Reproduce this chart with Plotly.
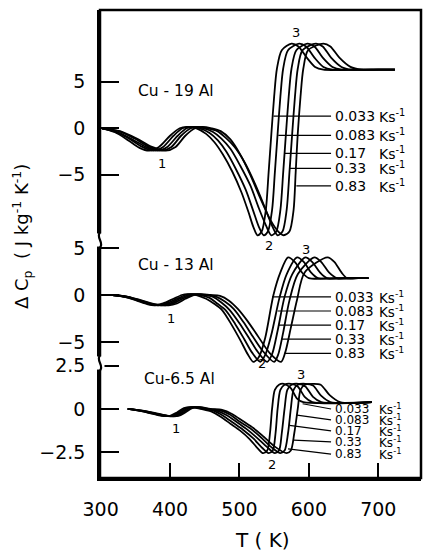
import plotly.graph_objects as go

RATES = ["0.033", "0.083", "0.17", "0.33", "0.83"]
ALLOYS = ["Cu - 19 Al", "Cu - 13 Al", "Cu-6.5 Al"]
X_TICKS = [300, 400, 500, 600, 700]

# ---------------- Cu-19 Al (top panel) ----------------
P1_T = [
    [302, 320, 340, 356, 370, 384, 400, 414, 424, 438, 452, 464, 476, 490, 503, 513, 520, 526, 532, 538, 542, 546, 550, 554, 561, 575, 585, 597, 609, 621, 660, 724],
    [302, 322, 343, 360, 376, 390, 405, 418, 429, 443, 457, 469, 481, 495, 509, 520, 528, 535, 541, 547, 551, 555, 559, 563, 570, 586, 596, 608, 621, 634, 670, 724],
    [302, 324, 346, 365, 382, 396, 411, 424, 435, 449, 462, 474, 487, 501, 516, 528, 538, 546, 553, 559, 563, 567, 571, 575, 582, 598, 608, 620, 634, 648, 680, 724],
    [302, 326, 349, 370, 388, 402, 416, 430, 440, 454, 468, 480, 493, 507, 522, 536, 546, 555, 562, 568, 572, 576, 580, 584, 591, 610, 620, 632, 647, 662, 690, 724],
    [302, 328, 352, 374, 394, 408, 422, 436, 446, 460, 473, 487, 501, 515, 530, 545, 556, 564, 572, 578, 581, 584, 588, 592, 599, 621, 631, 644, 660, 676, 700, 724],
]
P1_C = [
    [0, -0.4, -1.3, -2.1, -2.4, -2.0, -0.8, 0, 0.15, 0.0, -0.6, -1.5, -2.8, -4.7, -6.9, -9.0, -10.6, -11.5, -11.1, -8.8, -4.8, -0.6, 3.4, 6.4, 8.4, 9.1, 8.8, 7.6, 6.6, 6.3, 6.3, 6.3],
    [0, -0.4, -1.2, -2.0, -2.4, -2.0, -0.8, 0, 0.15, 0.0, -0.5, -1.3, -2.5, -4.4, -6.6, -8.9, -10.6, -11.5, -11.1, -8.8, -4.8, -0.6, 3.4, 6.4, 8.4, 9.1, 8.8, 7.6, 6.6, 6.3, 6.3, 6.3],
    [0, -0.4, -1.2, -2.0, -2.4, -2.0, -0.8, 0, 0.15, 0.0, -0.4, -1.1, -2.2, -4.0, -6.2, -8.6, -10.4, -11.5, -11.1, -8.8, -4.8, -0.6, 3.4, 6.4, 8.4, 9.1, 8.8, 7.6, 6.6, 6.3, 6.3, 6.3],
    [0, -0.3, -1.1, -2.0, -2.4, -2.0, -0.8, 0, 0.15, 0.0, -0.3, -1.0, -2.0, -3.6, -5.9, -8.4, -10.3, -11.5, -11.1, -8.8, -4.8, -0.6, 3.4, 6.4, 8.4, 9.1, 8.8, 7.6, 6.6, 6.3, 6.3, 6.3],
    [0, -0.3, -1.1, -2.0, -2.4, -2.0, -0.8, 0, 0.15, 0.0, -0.3, -1.2, -2.8, -4.9, -7.5, -9.9, -11.1, -11.5, -11.1, -8.8, -4.8, -0.6, 3.4, 6.4, 8.4, 9.1, 8.8, 7.6, 6.6, 6.3, 6.3, 6.3],
]
P1_LEAD_T = [549, 556, 565, 572, 582]
P1_LEAD_C = [1.3, -0.75, -2.7, -4.3, -6.2]

# ---------------- Cu-13 Al (middle panel) ----------------
P2_T = [
    [317, 335, 352, 368, 378, 390, 405, 417, 425, 438, 452, 463, 475, 489, 502, 512, 520, 528, 537, 549, 559, 570, 580, 590, 600, 640, 686],
    [317, 336, 354, 371, 383, 395, 410, 422, 430, 443, 457, 468, 480, 494, 507, 518, 530, 537, 546, 558, 568, 583, 593, 603, 613, 650, 686],
    [317, 338, 356, 374, 388, 400, 414, 426, 435, 448, 462, 474, 486, 500, 514, 526, 540, 547, 555, 565, 576, 595, 605, 616, 626, 660, 686],
    [317, 339, 358, 377, 393, 405, 418, 430, 440, 453, 467, 479, 492, 506, 520, 533, 550, 556, 563, 572, 584, 608, 618, 629, 640, 670, 686],
    [317, 340, 360, 380, 398, 410, 422, 434, 444, 458, 472, 485, 498, 512, 526, 544, 560, 566, 574, 583, 594, 627, 637, 647, 655, 672, 686],
]
P2_C = [
    [0, -0.2, -0.6, -1.0, -1.1, -0.9, -0.4, 0, 0.1, 0, -0.4, -0.9, -1.6, -3.2, -4.9, -6.3, -7.1, -6.6, -4.6, 0, 2.4, 4.0, 3.5, 2.4, 1.8, 1.8, 1.8],
    [0, -0.2, -0.6, -1.0, -1.1, -0.9, -0.4, 0, 0.1, 0, -0.3, -0.9, -1.6, -3.1, -4.7, -6.1, -7.1, -6.4, -4.2, -0.2, 2.2, 4.0, 3.5, 2.4, 1.8, 1.8, 1.8],
    [0, -0.2, -0.6, -1.0, -1.1, -0.9, -0.4, 0, 0.1, 0, -0.2, -0.8, -1.6, -3.0, -4.6, -6.0, -7.1, -6.3, -3.8, -0.2, 2.2, 4.0, 3.5, 2.4, 1.8, 1.8, 1.8],
    [0, -0.2, -0.6, -1.0, -1.1, -0.9, -0.4, 0, 0.1, 0, -0.2, -0.7, -1.5, -2.9, -4.5, -5.9, -7.1, -6.3, -4.0, -0.6, 2.2, 4.0, 3.5, 2.4, 1.8, 1.8, 1.8],
    [0, -0.2, -0.6, -1.0, -1.1, -0.9, -0.4, 0, 0.1, 0, -0.1, -0.6, -1.5, -2.8, -4.3, -6.2, -7.1, -6.1, -3.5, -0.5, 2.4, 4.0, 3.5, 2.4, 1.8, 1.8, 1.8],
]
P2_LEAD_T = [547, 555, 556, 560, 565]
P2_LEAD_C = [-0.2, -1.7, -3.2, -4.7, -6.2]

# ---------------- Cu-6.5 Al (bottom panel) ----------------
P3_T = [
    [339, 355, 372, 388, 400, 410, 420, 432, 445, 460, 473, 487, 501, 515, 527, 534, 540, 544, 547, 551, 557, 564, 574, 583, 592, 691],
    [339, 356, 374, 391, 403, 413, 423, 435, 448, 464, 477, 491, 505, 520, 533, 542, 548, 552, 555, 559, 565, 574, 584, 594, 605, 691],
    [339, 358, 376, 393, 406, 416, 426, 438, 452, 467, 481, 496, 510, 525, 540, 551, 557, 561, 565, 569, 575, 585, 595, 606, 618, 691],
    [339, 359, 378, 396, 409, 419, 429, 441, 455, 471, 486, 500, 515, 530, 546, 559, 565, 570, 574, 578, 584, 595, 606, 618, 631, 691],
    [339, 360, 380, 398, 412, 422, 432, 444, 458, 475, 490, 505, 520, 535, 552, 568, 574, 579, 584, 588, 594, 606, 617, 630, 645, 691],
]
P3_C = [
    [0, -0.1, -0.25, -0.4, -0.4, -0.2, 0.05, 0.1, 0, -0.15, -0.45, -0.85, -1.25, -1.75, -2.3, -2.55, -2.4, -1.4, 0.0, 1.1, 1.4, 1.45, 1.2, 0.6, 0.4, 0.4],
    [0, -0.1, -0.25, -0.4, -0.4, -0.2, 0.05, 0.1, 0, -0.12, -0.4, -0.8, -1.2, -1.7, -2.25, -2.55, -2.4, -1.4, 0.0, 1.1, 1.4, 1.45, 1.3, 0.7, 0.4, 0.4],
    [0, -0.1, -0.25, -0.4, -0.4, -0.2, 0.05, 0.1, 0, -0.1, -0.35, -0.75, -1.15, -1.65, -2.2, -2.55, -2.4, -1.4, 0.0, 1.1, 1.4, 1.45, 1.3, 0.7, 0.4, 0.4],
    [0, -0.1, -0.25, -0.4, -0.4, -0.2, 0.05, 0.1, 0, -0.07, -0.32, -0.72, -1.1, -1.6, -2.2, -2.55, -2.4, -1.4, 0.0, 1.1, 1.4, 1.45, 1.35, 0.75, 0.4, 0.4],
    [0, -0.1, -0.25, -0.4, -0.4, -0.2, 0.05, 0.1, 0, -0.05, -0.3, -0.7, -1.1, -1.6, -2.2, -2.55, -2.4, -1.4, 0.0, 1.1, 1.4, 1.45, 1.4, 0.8, 0.4, 0.4],
]
P3_LEAD_T = [591, 583, 572, 578, 570]
P3_LEAD_C = [0.3, -0.35, -0.95, -1.8, -2.3]
P3_LABEL_C = [0.0, -0.63, -1.26, -1.9, -2.6]

# ------------------------------------------------------------
FONT = "DejaVu Sans"
LW = 1.8
fig = go.Figure()

panels = [
    ("y", P1_T, P1_C, P1_LEAD_T, P1_LEAD_C, P1_LEAD_C, 14),
    ("y2", P2_T, P2_C, P2_LEAD_T, P2_LEAD_C, P2_LEAD_C, 13.5),
    ("y3", P3_T, P3_C, P3_LEAD_T, P3_LEAD_C, P3_LABEL_C, 12),
]
LEAD_START = 632
NUM_X = 635
UNIT_X = 698

annotations = []
for ya, Ts, Cs, lt, lc, labc, fs in panels:
    for T, C in zip(Ts, Cs):
        fig.add_trace(go.Scatter(x=T, y=C, mode="lines", xaxis="x", yaxis=ya,
                                 line=dict(color="black", width=LW, shape="spline", smoothing=0.8),
                                 showlegend=False, hoverinfo="skip"))
    for i in range(5):
        fig.add_trace(go.Scatter(x=[lt[i], LEAD_START], y=[lc[i], labc[i]], mode="lines",
                                 xaxis="x", yaxis=ya, line=dict(color="black", width=1.2),
                                 showlegend=False, hoverinfo="skip"))
        annotations.append(dict(x=NUM_X, y=labc[i], xref="x", yref=ya, text=RATES[i],
                                showarrow=False, xanchor="left", yanchor="middle",
                                font=dict(size=fs, family=FONT, color="black")))
        annotations.append(dict(x=UNIT_X, y=labc[i], xref="x", yref=ya, text="Ks<sup>-1</sup>",
                                showarrow=False, xanchor="left", yanchor="middle",
                                font=dict(size=fs, family=FONT, color="black")))

def txt(x, y, yref, s, size=13):
    annotations.append(dict(x=x, y=y, xref="x", yref=yref, text=s, showarrow=False,
                            xanchor="center", yanchor="middle",
                            font=dict(size=size, family=FONT, color="black")))

# alloy labels
txt(408, 4.0, "y", ALLOYS[0], 15.5)
txt(408, 3.2, "y2", ALLOYS[1], 15.5)
txt(414, 1.72, "y3", ALLOYS[2], 15.5)
# peak numbers
txt(389, -3.75, "y", "1"); txt(582, 10.3, "y", "3"); txt(543, 5.3, "y2", "2")
txt(401, -2.45, "y2", "1"); txt(596, 4.8, "y2", "3"); txt(533, 2.65, "y3", "2")
txt(409, -1.15, "y3", "1"); txt(588, 2.0, "y3", "3"); txt(547, -3.2, "y3", "2")

# axis titles
annotations.append(dict(x=-0.243, y=0.517, xref="paper", yref="paper",
                        text="Δ C<sub>p</sub>  ( J kg<sup>-1</sup> K<sup>-1</sup>)",
                        textangle=-90, showarrow=False, xanchor="center", yanchor="middle",
                        font=dict(size=18, family=FONT, color="black")))
annotations.append(dict(x=0.505, y=-0.1325, xref="paper", yref="paper", text="T ( K)",
                        showarrow=False, xanchor="center", yanchor="middle",
                        font=dict(size=20, family=FONT, color="black")))

yax_common = dict(showline=True, linewidth=2.5, linecolor="black", ticks="inside",
                  ticklen=19, tickwidth=2, tickcolor="black", showgrid=False, zeroline=False,
                  anchor="x", tickfont=dict(size=19, family=FONT, color="black"),
                  ticklabelstandoff=8)

D3 = 115 / 468
D2 = 238 / 468
shapes = [
    dict(type="rect", xref="paper", yref="paper", x0=0, y0=0, x1=1, y1=1,
         line=dict(color="black", width=2.5)),
]
for yb in (D3, D2):
    shapes.append(dict(type="rect", xref="paper", yref="paper", x0=-0.014, x1=0.014,
                       y0=yb - 0.014, y1=yb + 0.014, fillcolor="white", line=dict(width=0)))
    shapes.append(dict(type="path", xref="paper", yref="paper",
                       path=f"M 0,{yb-0.016} C 0.014,{yb-0.006} -0.014,{yb+0.006} 0,{yb+0.016}",
                       line=dict(color="black", width=2.2)))

fig.update_layout(
    width=423, height=551,
    margin=dict(l=100, r=2, t=10, b=73),
    paper_bgcolor="white", plot_bgcolor="white",
    font=dict(family=FONT, color="black"),
    xaxis=dict(domain=[0, 1], range=[299.1, 761.6], anchor="y3", tickvals=X_TICKS,
               ticks="inside", ticklen=15, tickwidth=2, tickcolor="black",
               showline=True, linewidth=2.5, linecolor="black", showgrid=False, zeroline=False,
               tickfont=dict(size=19, family=FONT, color="black"), ticklabelstandoff=12),
    yaxis=dict(domain=[D2, 1], range=[-12.01, 12.72], tickvals=[-5, 0, 5],
               ticktext=["−5", "0", "5"], **yax_common),
    yaxis2=dict(domain=[D3, D2], range=[-7.23, 5.85], tickvals=[-5, 0, 5],
                ticktext=["−5", "0", "5"], **yax_common),
    yaxis3=dict(domain=[0, D3], range=[-3.98, 2.65], tickvals=[-2.5, 0, 2.5],
                ticktext=["−2.5", "0", "2.5"], **yax_common),
    annotations=annotations,
    shapes=shapes,
)

fig.write_html("out.html")
